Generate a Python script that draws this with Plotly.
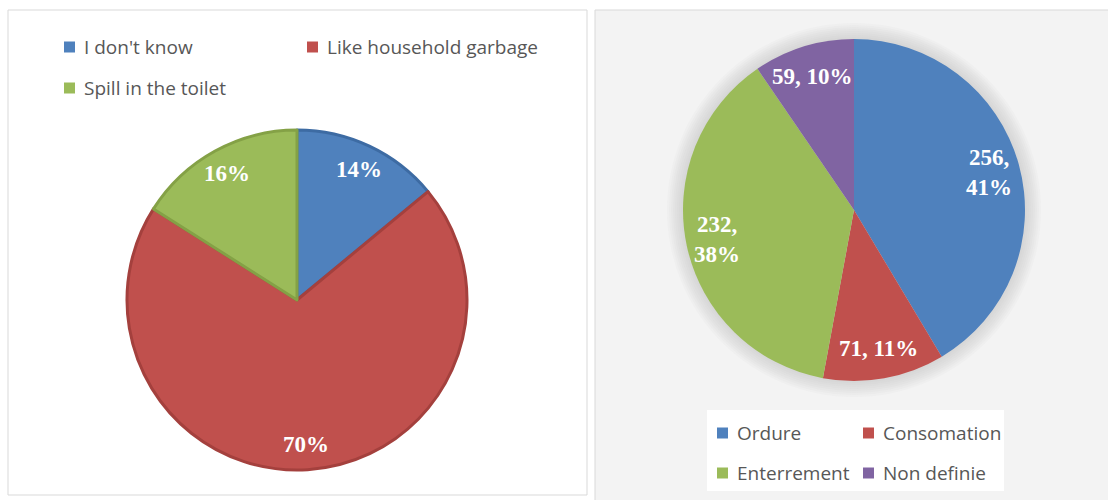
import math
import plotly.graph_objects as go

W, H = 1108, 500

# Left chart: how leftover medicines are disposed of (percent of answers)
disposal_labels = ["I don't know", "Like household garbage", "Spill in the toilet"]
disposal_pct = [14, 70, 16]

# Right chart: counts per category
usage_labels = ["Ordure", "Consomation", "Enterrement", "Non definie"]
usage_counts = [256, 71, 232, 59]

# Styling
blue, red, green, purple = "#4f81bd", "#c0504d", "#9bbb59", "#8064a2"
disposal_colors = [blue, red, green]
disposal_edges = ["#3d6ba3", "#a4403d", "#84a146"]
usage_colors = [blue, red, green, purple]
wrapped_usage = {"Ordure", "Enterrement"}

LABEL_FONT = dict(family="Liberation Serif", size=23, color="#ffffff")
LEGEND_FONT = dict(family="Open Sans", size=19, color="#575757")


def px(x):
    return x / W


def py(y):
    return 1 - y / H


def domain(cx, cy, r):
    return dict(x=[px(cx - r), px(cx + r)], y=[py(cy + r), py(cy - r)])


def slice_label_positions(values, cx, cy, r, frac):
    """Pixel positions along each slice's bisector (clockwise from 12 o'clock)."""
    total = float(sum(values))
    out, cum = [], 0.0
    for v in values:
        mid = (cum + v / 2.0) / total
        theta = 2 * math.pi * mid
        out.append((cx + frac * r * math.sin(theta), cy - frac * r * math.cos(theta)))
        cum += v
    return out


L_CX, L_CY, L_R = 297, 300, 170
R_CX, R_CY, R_R = 854, 210, 171

fig = go.Figure()

fig.add_trace(go.Pie(
    labels=disposal_labels, values=disposal_pct, sort=False,
    direction="clockwise", rotation=0, textinfo="none", hoverinfo="label+percent",
    marker=dict(colors=disposal_colors, line=dict(color=disposal_edges, width=3)),
    domain=domain(L_CX, L_CY, L_R), showlegend=False,
))

fig.add_trace(go.Pie(
    labels=usage_labels, values=usage_counts, sort=False,
    direction="clockwise", rotation=0, textinfo="none", hoverinfo="label+value+percent",
    marker=dict(colors=usage_colors, line=dict(width=0)),
    domain=domain(R_CX, R_CY, R_R), showlegend=False,
))

shapes = [
    dict(type="rect", xref="paper", yref="paper", layer="below",
         x0=px(8), x1=px(587), y0=py(495), y1=py(10),
         fillcolor="#ffffff", line=dict(color="#d9d9d9", width=1)),
    dict(type="rect", xref="paper", yref="paper", layer="below",
         x0=px(595), x1=px(1115), y0=py(505), y1=py(10),
         fillcolor="#f3f3f3", line=dict(color="#d9d9d9", width=1)),
]
# soft glow behind the right pie
for grow in range(16, 0, -2):
    rr = R_R + grow
    shapes.append(dict(type="circle", xref="paper", yref="paper", layer="below",
                       x0=px(R_CX - rr), x1=px(R_CX + rr), y0=py(R_CY + rr), y1=py(R_CY - rr),
                       fillcolor="rgba(160,160,160,0.04)", line=dict(width=0)))
# white box behind the right legend
shapes.append(dict(type="rect", xref="paper", yref="paper", layer="below",
                   x0=px(707), x1=px(1004), y0=py(491), y1=py(410),
                   fillcolor="#ffffff", line=dict(width=0)))

annotations = []

# data labels on the left pie
for (x, y), v in zip(slice_label_positions(disposal_pct, L_CX, L_CY, L_R, 0.85), disposal_pct):
    annotations.append(dict(x=px(x), y=py(y), xref="paper", yref="paper", showarrow=False,
                            text=f"<b>{v}%</b>", font=LABEL_FONT,
                            xanchor="center", yanchor="middle"))

# data labels on the right pie
usage_total = sum(usage_counts)
for (x, y), name, v in zip(slice_label_positions(usage_counts, R_CX, R_CY, R_R, 0.82),
                           usage_labels, usage_counts):
    pct = round(100 * v / usage_total)
    sep = ",<br>" if name in wrapped_usage else ", "
    annotations.append(dict(x=px(x), y=py(y), xref="paper", yref="paper", showarrow=False,
                            text=f"<b>{v}{sep}{pct}%</b>", font=LABEL_FONT,
                            xanchor="center", yanchor="middle", align="center"))


def legend_entry(name, color, sx, cy, size=11):
    shapes.append(dict(type="rect", xref="paper", yref="paper",
                       x0=px(sx), x1=px(sx + size), y0=py(cy + size / 2), y1=py(cy - size / 2),
                       fillcolor=color, line=dict(width=0)))
    annotations.append(dict(x=px(sx + size + 7), y=py(cy), xref="paper", yref="paper",
                            showarrow=False, text=name, font=LEGEND_FONT,
                            xanchor="left", yanchor="middle"))


# left legend: two columns, three entries
left_slots = [(64, 47), (307, 47), (64, 88)]
for name, color, (sx, cy) in zip(disposal_labels, disposal_colors, left_slots):
    legend_entry(name, color, sx, cy)

# right legend: 2 x 2 grid
right_slots = [(717, 433), (863, 433), (717, 473), (863, 473)]
for name, color, (sx, cy) in zip(usage_labels, usage_colors, right_slots):
    legend_entry(name, color, sx, cy)

fig.update_layout(
    width=W, height=H,
    margin=dict(l=0, r=0, t=0, b=0),
    paper_bgcolor="#ffffff", plot_bgcolor="#ffffff",
    showlegend=False,
    shapes=shapes, annotations=annotations,
)

fig.write_html("out.html")
